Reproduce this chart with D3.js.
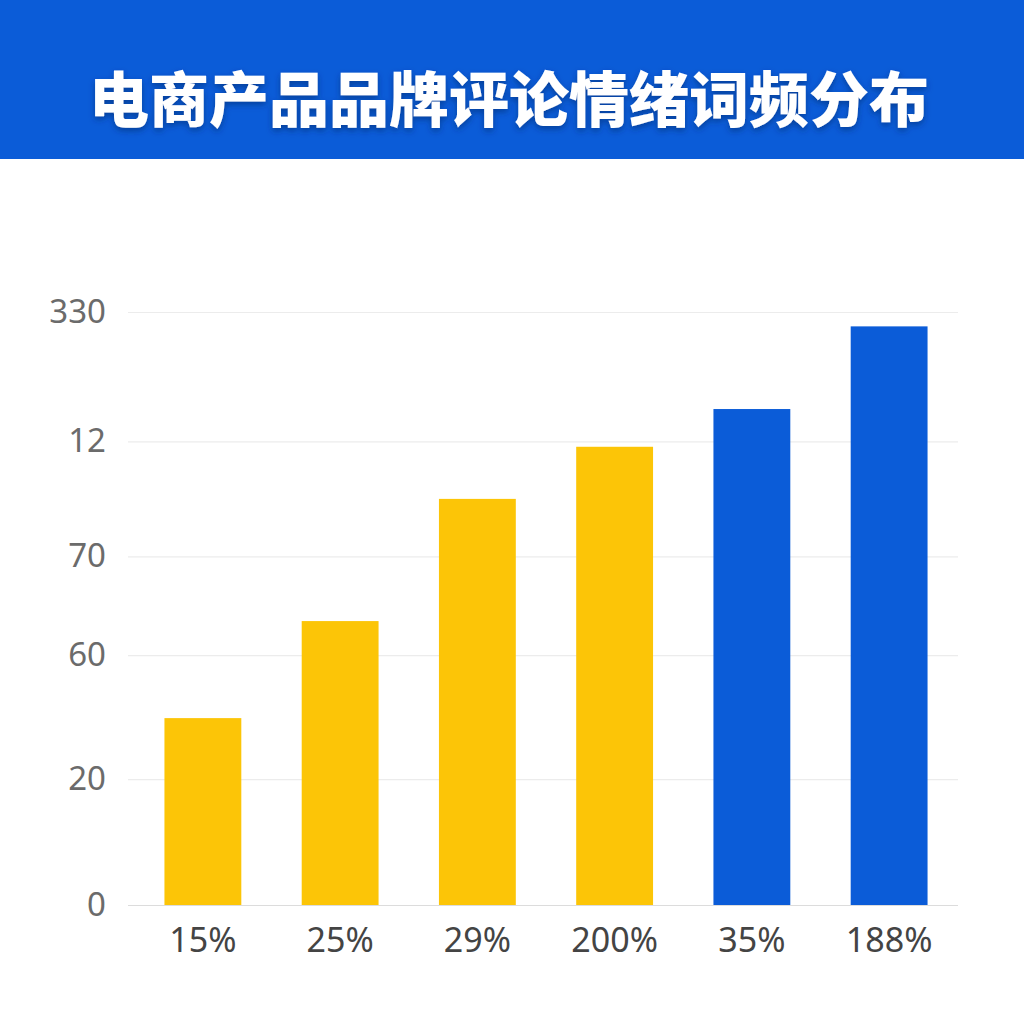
<!DOCTYPE html>
<html>
<head>
<meta charset="utf-8">
<script src="https://cdn.jsdelivr.net/npm/d3@7"></script>
<style>
	html, body { margin: 0; padding: 0; background: #fff; }
	svg { display: block; }
</style>
</head>
<body>
<div id="plot"></div>
<script>
// chart data
var title = "电商产品品牌评论情绪词频分布";
var categories = ["15%", "25%", "29%", "200%", "35%", "188%"];
var values = [104, 158, 226, 255, 276, 322];
var barGroups = ["yellow", "yellow", "yellow", "yellow", "blue", "blue"];
var yTickValues = [0, 70, 139, 194, 258, 330];
var yTickLabels = ["0", "20", "60", "70", "12", "330"];

var W = 1024, H = 1024;
var margin = { top: 312, right: 66, bottom: 119, left: 128 };
var width = W - margin.left - margin.right, height = H - margin.top - margin.bottom;

var svg = d3.select("#plot")
	.append("svg")
	.attr("width", W)
	.attr("height", H);

var defs = svg.append("defs");
var shadow = defs.append("filter").attr("id", "tshadow")
	.attr("x", "-10%").attr("y", "-30%").attr("width", "120%").attr("height", "160%");
shadow.append("feDropShadow")
	.attr("dx", 0).attr("dy", 3).attr("stdDeviation", 3)
	.attr("flood-color", "#002a70").attr("flood-opacity", 0.6);

//header banner
svg.append("rect")
	.attr("x", 0).attr("y", 0)
	.attr("width", W).attr("height", 159)
	.attr("fill", "#0b5cd8");

svg.append("text")
	.attr("x", W / 2 - 3)
	.attr("y", 95)
	.attr("text-anchor", "middle")
	.attr("dominant-baseline", "central")
	.attr("font-family", "'Noto Sans CJK SC', sans-serif")
	.attr("font-weight", 900)
	.attr("font-size", 60)
	.attr("fill", "#fff")
	.attr("filter", "url(#tshadow)")
	.text(title);

var g = svg.append("g")
	.attr("transform", "translate(" + margin.left + "," + margin.top + ")");

//scales (bars sit a little inside the grid)
var xScale = d3.scaleBand()
	.domain(categories)
	.range([9, width - 3])
	.paddingInner(0.44)
	.paddingOuter(0.2);

var yScale = d3.scaleLinear()
	.domain([0, 330])
	.range([height, 0]);

var colours = d3.scaleOrdinal()
	.domain(["yellow", "blue"])
	.range(["#fcc507", "#0b5cd8"]);

//gridlines + y labels
var yAxis = g.append("g")
	.call(d3.axisLeft(yScale)
		.tickValues(yTickValues)
		.tickSize(-width)
		.tickPadding(22)
		.tickFormat(function (d, i) { return yTickLabels[i]; }));
yAxis.select(".domain").remove();
yAxis.selectAll(".tick line")
	.attr("stroke", function (d) { return d === 0 ? "#dcdcdc" : "#ececec"; })
	.attr("stroke-width", 1.2);
yAxis.selectAll(".tick text")
	.attr("font-family", "'Noto Sans', sans-serif")
	.attr("font-size", 33)
	.attr("fill", "#6b6b6b");

//bars
g.append("g")
	.selectAll("rect")
	.data(values)
	.enter().append("rect")
	.attr("x", function (d, i) { return xScale(categories[i]); })
	.attr("y", function (d) { return yScale(d); })
	.attr("width", xScale.bandwidth())
	.attr("height", function (d) { return height - yScale(d); })
	.attr("fill", function (d, i) { return colours(barGroups[i]); });

//x axis labels
var xAxis = g.append("g")
	.attr("transform", "translate(0," + height + ")")
	.call(d3.axisBottom(xScale).tickSize(0).tickPadding(23));
xAxis.select(".domain").remove();
xAxis.selectAll(".tick text")
	.attr("font-family", "'Noto Sans', sans-serif")
	.attr("font-size", 34)
	.attr("fill", "#444");
</script>
</body>
</html>
